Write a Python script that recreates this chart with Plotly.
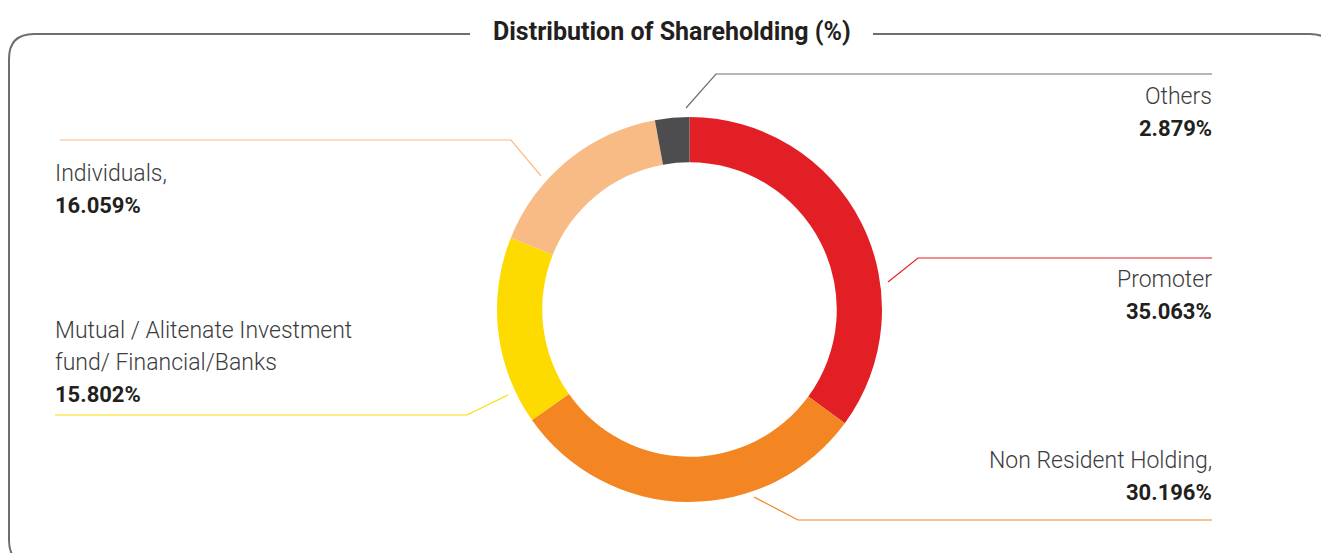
import plotly.graph_objects as go

# Shareholding categories, clockwise from 12 o'clock
categories = [
    "Promoter",
    "Non Resident Holding,",
    "Mutual / Alitenate Investment\nfund/ Financial/Banks",
    "Individuals,",
    "Others",
]
shares = [35.063, 30.196, 15.802, 16.059, 2.879]
slice_colors = ["#e31f26", "#f38522", "#fddb00", "#f9bb86", "#4d4d4f"]
leader_colors = ["#e31f26", "#f38522", "#fddb00", "#f9bb86", "#6d6e71"]

W, H = 1321, 553

# Callout layout in pixel space: leader polyline and label anchor for each slice
callouts = [
    dict(line=[(888, 282), (918, 258), (1212, 258)], x=1212, y=279, align="right"),
    dict(line=[(754, 497), (798, 520), (1212, 520)], x=1212, y=460, align="right"),
    dict(line=[(508, 395), (467, 415), (55, 415)], x=55, y=330, align="left"),
    dict(line=[(541, 176), (511, 140), (60, 140)], x=55, y=173, align="left"),
    dict(line=[(686, 108), (716, 74), (1212, 74)], x=1212, y=96, align="right"),
]
LINE_STEP = 32

cx, cy, r_out = 689.5, 309.5, 192.5

fig = go.Figure()

# helper cartesian layer spanning the whole page in pixel units
fig.add_trace(go.Scatter(x=[], y=[], showlegend=False, hoverinfo="skip"))

fig.add_trace(go.Pie(
    labels=[c.replace("\n", " ") for c in categories],
    values=shares,
    sort=False,
    direction="clockwise",
    rotation=0,
    hole=0.765,
    marker=dict(colors=slice_colors, line=dict(width=0)),
    textinfo="none",
    hoverinfo="label+value",
    showlegend=False,
    domain=dict(
        x=[(cx - r_out) / W, (cx + r_out) / W],
        y=[1 - (cy + r_out) / H, 1 - (cy - r_out) / H],
    ),
))

shapes = []
annotations = []

# rounded outer frame with a gap for the heading
frame = ("M 470,34 H 34 Q 9,34 9,59 V 540 Q 9,565 34,565 H 1310 "
         "Q 1335,565 1335,540 V 59 Q 1335,34 1310,34 H 873")
shapes.append(dict(type="path", path=frame, xref="x", yref="y",
                   line=dict(color="#6d6e71", width=2), layer="above"))

annotations.append(dict(
    x=672, y=31, xref="x", yref="y", text="<b>Distribution of Shareholding (%)</b>",
    showarrow=False, xanchor="center", yanchor="middle",
    font=dict(family="Roboto", size=25, color="#231f20"),
))

for name, val, col, co in zip(categories, shares, leader_colors, callouts):
    pts = co["line"]
    path = "M " + " L ".join(f"{px},{py}" for px, py in pts)
    shapes.append(dict(type="path", path=path, xref="x", yref="y",
                       line=dict(color=col, width=1.2), layer="above"))
    lines = name.split("\n")
    xa = "right" if co["align"] == "right" else "left"
    shift = 2 if xa == "right" else -2
    for i, ln in enumerate(lines):
        annotations.append(dict(
            x=co["x"], y=co["y"] + i * LINE_STEP, xref="x", yref="y", text=ln,
            showarrow=False, xanchor=xa, yanchor="middle", xshift=shift,
            font=dict(family="Roboto", size=23, color="#3c3c3e", weight=300),
        ))
    annotations.append(dict(
        x=co["x"], y=co["y"] + len(lines) * LINE_STEP, xref="x", yref="y",
        text=f"<b>{val:.3f}%</b>",
        showarrow=False, xanchor=xa, yanchor="middle", xshift=shift,
        font=dict(family="Roboto", size=22, color="#231f20"),
    ))

fig.update_layout(
    width=W, height=H,
    margin=dict(l=0, r=0, t=0, b=0),
    paper_bgcolor="white", plot_bgcolor="white",
    xaxis=dict(range=[0, W], visible=False, fixedrange=True, domain=[0, 1]),
    yaxis=dict(range=[H, 0], visible=False, fixedrange=True, domain=[0, 1]),
    shapes=shapes,
    annotations=annotations,
    showlegend=False,
)

fig.write_html("out.html")
